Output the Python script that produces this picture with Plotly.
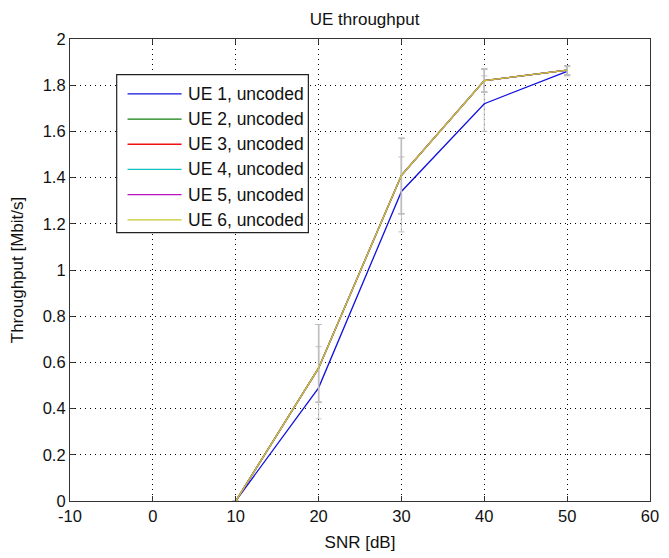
import plotly.graph_objects as go

# SNR operating points [dB]
snr_db = [10, 20, 30, 40, 50]

# Mean throughput per user equipment [Mbit/s]
ue1_tput = [0.0, 0.49, 1.34, 1.72, 1.86]
ue2_tput = [0.0, 0.575, 1.41, 1.82, 1.865]
ue3_tput = [0.0, 0.575, 1.41, 1.82, 1.865]
ue4_tput = [0.0, 0.575, 1.41, 1.82, 1.865]
ue5_tput = [0.0, 0.575, 1.41, 1.82, 1.865]
ue6_tput = [0.0, 0.575, 1.41, 1.82, 1.865]

# Confidence interval extents (upper / lower) [Mbit/s]
ue1_err_up = [0.0, 0.178, 0.15, 0.12, 0.02]
ue1_err_dn = [0.0, 0.134, 0.175, 0.12, 0.02]
ue6_err_up = [0.0, 0.189, 0.16, 0.05, 0.02]
ue6_err_dn = [0.0, 0.148, 0.166, 0.05, 0.02]

series_names = ["UE 1, uncoded", "UE 2, uncoded", "UE 3, uncoded",
                "UE 4, uncoded", "UE 5, uncoded", "UE 6, uncoded"]
series_values = [ue1_tput, ue2_tput, ue3_tput, ue4_tput, ue5_tput, ue6_tput]
series_err = [(ue1_err_up, ue1_err_dn)] + [(ue6_err_up, ue6_err_dn)] * 5
series_colors = ["#1010e0", "#108010", "#f01010", "#10bfbf", "#bf10bf", "#c8c830"]

x_ticks = [-10, 0, 10, 20, 30, 40, 50, 60]
y_ticks = [0, 0.2, 0.4, 0.6, 0.8, 1, 1.2, 1.4, 1.6, 1.8, 2]

FONT = "Arial, Liberation Sans, sans-serif"
TXT = "#111111"

fig = go.Figure()
for name, vals, (eu, ed), col in zip(series_names, series_values, series_err, series_colors):
    fig.add_trace(go.Scatter(
        x=snr_db, y=vals, name=name, mode="lines", showlegend=False,
        line=dict(color=col, width=1.3),
        error_y=dict(type="data", symmetric=False, array=eu, arrayminus=ed,
                     color="rgba(190,190,190,0.8)", thickness=1.2, width=3),
    ))

axis_common = dict(
    showline=True, linecolor="#333333", linewidth=1.2, mirror="ticks",
    ticks="inside", ticklen=5, tickcolor="#333333", tickwidth=1,
    showgrid=True, gridcolor="#000000", gridwidth=1, griddash="1px,4px",
    zeroline=False,
    tickfont=dict(family=FONT, size=16.5, color=TXT),
)

fig.update_xaxes(range=[-10, 60], tickvals=x_ticks,
                 ticktext=[f"{v:g}" for v in x_ticks],
                 title=dict(text="SNR [dB]", font=dict(family=FONT, size=17, color=TXT),
                            standoff=12),
                 **axis_common)
fig.update_yaxes(range=[0, 2], tickvals=y_ticks,
                 ticktext=[f"{v:g}" for v in y_ticks],
                 title=dict(text="Throughput [Mbit/s]", font=dict(family=FONT, size=17, color=TXT),
                            standoff=14),
                 **axis_common)

# Boxed legend in the upper-left corner (paper coordinates of the plot area)
box_x0, box_x1 = 0.0805, 0.411
box_y0, box_y1 = 0.581, 0.9227
sample_x0, sample_x1 = 0.0992, 0.1924
label_x = 0.2008
row_top, row_step = 0.8812, 0.0545

fig.add_shape(type="rect", xref="paper", yref="paper",
              x0=box_x0, x1=box_x1, y0=box_y0, y1=box_y1,
              line=dict(color="#222222", width=1.2), fillcolor="white", layer="above")
for i, (name, col) in enumerate(zip(series_names, series_colors)):
    yy = row_top - i * row_step
    fig.add_shape(type="line", xref="paper", yref="paper",
                  x0=sample_x0, x1=sample_x1, y0=yy, y1=yy,
                  line=dict(color=col, width=1.3), layer="above")
    fig.add_annotation(text=name, xref="paper", yref="paper", x=label_x, y=yy,
                       xanchor="left", yanchor="middle", showarrow=False,
                       font=dict(family=FONT, size=17.5, color=TXT))

fig.update_layout(
    width=669, height=558,
    margin=dict(l=69.5, r=9.5, t=39, b=53.5),
    paper_bgcolor="white", plot_bgcolor="white",
    title=dict(text="UE throughput", x=0.545, xanchor="center", y=0.965, yanchor="middle",
               font=dict(family=FONT, size=17, color=TXT)),
    showlegend=False,
)

fig.write_html("out.html")
